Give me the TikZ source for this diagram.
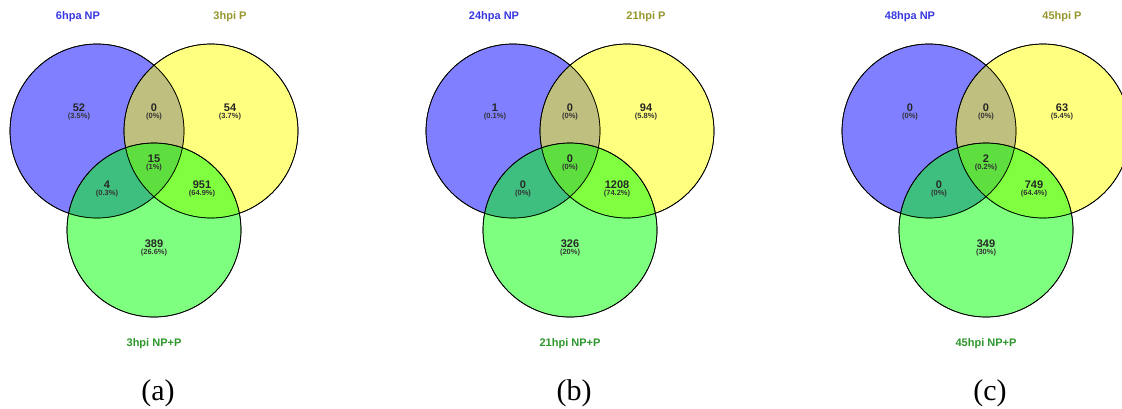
\documentclass[tikz,border=0pt]{standalone}
\usepackage{fontspec}
\setmainfont{Liberation Serif}
\setsansfont{Liberation Sans}
\definecolor{vblue}{RGB}{0,0,255}
\definecolor{vyellow}{RGB}{255,255,0}
\definecolor{vgreen}{RGB}{0,255,0}
\definecolor{lblue}{RGB}{55,55,225}
\definecolor{lolive}{RGB}{150,150,45}
\definecolor{lgreen}{RGB}{45,150,45}
\tikzset{
  setcircle/.style={draw=black, line width=0.7pt, fill opacity=0.5},
  num/.style={font=\sffamily\bfseries\fontsize{11}{11}\selectfont, inner sep=0pt, text=black!85},
  pct/.style={font=\sffamily\bfseries\fontsize{7.5}{7.5}\selectfont, inner sep=0pt, text=black!80},
  setlabel/.style={font=\sffamily\bfseries\fontsize{11}{11}\selectfont, inner sep=0pt},
  caption/.style={font=\rmfamily\fontsize{30}{30}\selectfont, inner sep=0pt}
}
\newcommand\vennpanel[7]{%
  \begin{scope}[shift={(#2,0)}]
    \fill[vblue, setcircle] (0,131) circle (87);
    \fill[vyellow, setcircle] (114,131) circle (87);
    \fill[vgreen, setcircle] (57,230) circle (87);
    \draw[line width=0.7pt] (0,131) circle (87);
    \draw[line width=0.7pt] (114,131) circle (87);
    \draw[line width=0.7pt] (57,230) circle (87);
    \node[setlabel, text=lblue] (#1-l1) at (-19,17) {#3};
    \node[setlabel, text=lolive] (#1-l2) at (133,17) {#4};
    \node[setlabel, text=lgreen] (#1-l3) at (57,344) {#5};
    \node[caption] (#1-cap) at (61,393) {#6};
    #7
  \end{scope}}
\newcommand\region[5]{%
  \node[num] (#1) at (#2,#3) {#4};
  \node[pct] (#1p) at (#2,#3+9) {#5};}
\begin{document}
\begin{tikzpicture}[x=1pt,y=-1pt]
\useasboundingbox (0,0) rectangle (1122,408);
\clip (0,0) rectangle (1122,408);
\vennpanel{a}{97}{6hpa NP}{3hpi P}{3hpi NP+P}{(a)}{%
  \region{a1}{-18}{108}{52}{(3.5\%)}
  \region{a12}{57}{108}{0}{(0\%)}
  \region{a2}{133}{108}{54}{(3.7\%)}
  \region{a123}{57}{159}{15}{(1\%)}
  \region{a13}{10}{185}{4}{(0.3\%)}
  \region{a23}{105}{185}{951}{(64.9\%)}
  \region{a3}{57}{244}{389}{(26.6\%)}
}
\vennpanel{b}{513}{24hpa NP}{21hpi P}{21hpi NP+P}{(b)}{%
  \region{b1}{-18}{108}{1}{(0.1\%)}
  \region{b12}{57}{108}{0}{(0\%)}
  \region{b2}{133}{108}{94}{(5.8\%)}
  \region{b123}{57}{159}{0}{(0\%)}
  \region{b13}{10}{185}{0}{(0\%)}
  \region{b23}{104}{185}{1208}{(74.2\%)}
  \region{b3}{57}{244}{326}{(20\%)}
}
\vennpanel{c}{929}{48hpa NP}{45hpi P}{45hpi NP+P}{(c)}{%
  \region{c1}{-19}{108}{0}{(0\%)}
  \region{c12}{57}{108}{0}{(0\%)}
  \region{c2}{133}{108}{63}{(5.4\%)}
  \region{c123}{57}{159}{2}{(0.2\%)}
  \region{c13}{10}{185}{0}{(0\%)}
  \region{c23}{105}{185}{749}{(64.4\%)}
  \region{c3}{57}{244}{349}{(30\%)}
}
\end{tikzpicture}
\end{document}
